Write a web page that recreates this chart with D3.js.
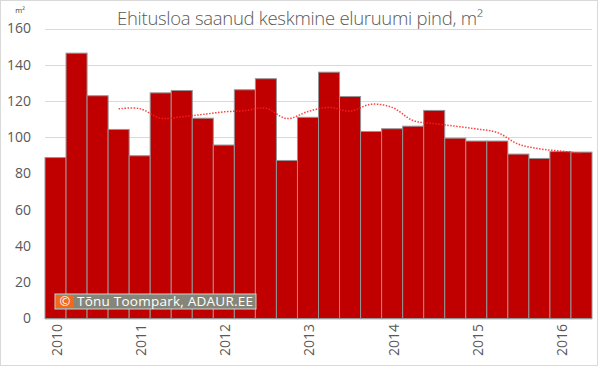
<!DOCTYPE html>
<html>
<head>
<meta charset="utf-8">
<script src="https://cdn.jsdelivr.net/npm/d3@7"></script>
<style>
  body { margin: 0; background: #fff; }
  svg { display: block; font-family: "Open Sans", "Liberation Sans", sans-serif; }
</style>
</head>
<body>
<div id="chart"></div>
<script>
// quarterly values, 2010 Q1 .. 2016 Q2
const quarters = ["2010 Q1","2010 Q2","2010 Q3","2010 Q4","2011 Q1","2011 Q2","2011 Q3","2011 Q4",
  "2012 Q1","2012 Q2","2012 Q3","2012 Q4","2013 Q1","2013 Q2","2013 Q3","2013 Q4",
  "2014 Q1","2014 Q2","2014 Q3","2014 Q4","2015 Q1","2015 Q2","2015 Q3","2015 Q4",
  "2016 Q1","2016 Q2"];
const area = [88.8, 146.4, 122.9, 104.3, 89.8, 124.5, 125.8, 110.5, 95.7, 126.2, 132.3, 87.2,
  111.0, 135.9, 122.5, 103.2, 104.7, 106.1, 114.8, 99.5, 97.9, 97.9, 90.7, 88.3, 92.1, 91.8];
// 4-quarter moving average trendline
const trend = [null, null, null, 115.7, 115.8, 110.5, 111.3, 112.6, 114.0, 114.7, 116.0, 110.3,
  114.2, 116.5, 114.4, 118.2, 116.5, 109.2, 107.5, 106.1, 104.6, 102.6, 96.2, 93.6, 92.4, 91.0];
const yearLabels = ["2010", "2011", "2012", "2013", "2014", "2015", "2016"];
const yTicks = [0, 20, 40, 60, 80, 100, 120, 140, 160];

const width = 600, height = 366;
const margin = { top: 28.5, right: 8, bottom: 47.5, left: 45 };

const svg = d3.select("#chart").append("svg")
  .attr("width", width)
  .attr("height", height);

// outer chart border
svg.append("rect")
  .attr("x", 0.5).attr("y", 0.5)
  .attr("width", 597).attr("height", 365)
  .attr("fill", "#fff")
  .attr("stroke", "#d9d9d9");

const x = d3.scaleBand()
  .domain(quarters)
  .range([margin.left, width - margin.right])
  .padding(0);

const y = d3.scaleLinear()
  .domain([0, 160])
  .range([height - margin.bottom, margin.top]);

// gridlines
svg.append("g")
  .selectAll("line")
  .data(yTicks)
  .join("line")
  .attr("x1", margin.left)
  .attr("x2", width - margin.right)
  .attr("y1", d => Math.round(y(d)) + 0.5)
  .attr("y2", d => Math.round(y(d)) + 0.5)
  .attr("stroke", "#d9d9d9")
  .attr("stroke-width", 1);

// y tick labels
svg.append("g")
  .selectAll("text")
  .data(yTicks)
  .join("text")
  .attr("x", 31)
  .attr("y", d => y(d))
  .attr("dy", "0.35em")
  .attr("text-anchor", "end")
  .attr("font-size", 14)
  .attr("fill", "#595959")
  .text(d => d);

// bars
svg.append("g")
  .selectAll("rect")
  .data(area)
  .join("rect")
  .attr("x", (d, i) => x(quarters[i]))
  .attr("y", d => y(d))
  .attr("width", x.bandwidth())
  .attr("height", d => y(0) - y(d))
  .attr("fill", "#c00000")
  .attr("stroke", "#959595")
  .attr("stroke-width", 1);

// moving average trendline
const line = d3.line()
  .defined(d => d != null)
  .x((d, i) => x(quarters[i]) + x.bandwidth() / 2)
  .y(d => y(d))
  .curve(d3.curveCatmullRom);

svg.append("path")
  .datum(trend)
  .attr("d", line)
  .attr("fill", "none")
  .attr("stroke", "#ff2020")
  .attr("stroke-opacity", 0.85)
  .attr("stroke-width", 1.5)
  .attr("stroke-dasharray", "1.5,1.5");

// year labels, rotated, on the first quarter of each year
svg.append("g")
  .selectAll("text")
  .data(yearLabels)
  .join("text")
  .attr("transform", d => {
    const cx = x(d + " Q1") + x.bandwidth() / 2 + 1.5;
    return `translate(${cx},324) rotate(-90)`;
  })
  .attr("dy", "0.35em")
  .attr("text-anchor", "end")
  .attr("font-size", 14)
  .attr("fill", "#595959")
  .text(d => d);

// title
svg.append("text")
  .attr("x", 300)
  .attr("y", 25)
  .attr("text-anchor", "middle")
  .attr("font-size", 18.5)
  .attr("font-weight", 300)
  .attr("fill", "#595959")
  .attr("textLength", 366)
  .text("Ehitusloa saanud keskmine eluruumi pind, m²");

// unit label
svg.append("text")
  .attr("x", 20)
  .attr("y", 13)
  .attr("text-anchor", "middle")
  .attr("font-size", 7.5)
  .attr("fill", "#404040")
  .text("m²");

// watermark
const wm = svg.append("g").attr("transform", "translate(55,294)");
wm.append("rect")
  .attr("x", 0).attr("y", 0)
  .attr("width", 201).attr("height", 15)
  .attr("fill", "#85857a")
  .attr("stroke", "#d0d0c8")
  .attr("stroke-width", 1);
wm.append("rect")
  .attr("x", 1).attr("y", 1)
  .attr("width", 18).attr("height", 13)
  .attr("fill", "#f06a1e");
wm.append("text")
  .attr("x", 10).attr("y", 12)
  .attr("text-anchor", "middle")
  .attr("font-size", 13)
  .attr("fill", "#fff")
  .text("©");
wm.append("text")
  .attr("x", 22).attr("y", 12)
  .attr("font-size", 13.5)
  .attr("fill", "#fff")
  .attr("textLength", 176)
  .text("Tõnu Toompark, ADAUR.EE");
</script>
</body>
</html>
